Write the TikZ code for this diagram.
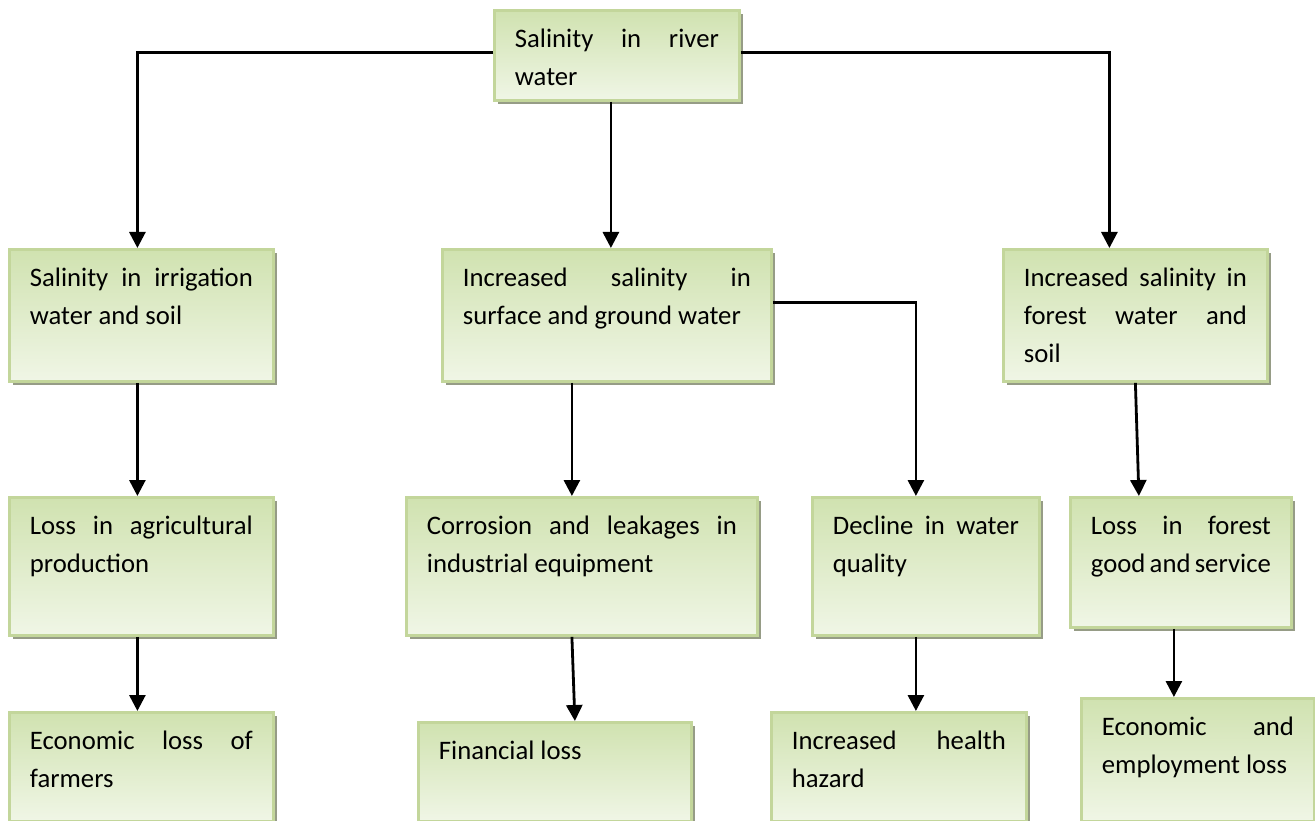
\documentclass[tikz,border=0pt]{standalone}
\usepackage{fontspec}
\setmainfont{Carlito}
\usetikzlibrary{arrows.meta,shadows}
\definecolor{boxedge}{RGB}{195,214,155}
\definecolor{boxtop}{RGB}{208,226,176}
\definecolor{boxbot}{RGB}{240,246,230}
\definecolor{boxshadow}{RGB}{150,156,134}
\begin{document}
\begin{tikzpicture}[x=1pt,y=-1pt,>={Triangle[width=16pt,length=16pt]},
    cbox/.style={draw=boxedge,line width=2.8pt,top color=boxtop,bottom color=boxbot,
      inner xsep=20.5pt,inner ysep=0pt,anchor=north west,
      drop shadow={shadow xshift=4pt,shadow yshift=-4pt,fill=boxshadow,opacity=1}},
    arr/.style={->,line width=2.8pt}]
    \def\bx#1#2#3{\begin{minipage}[c][#2pt][t]{\dimexpr#1pt-41pt\relax}\fontsize{26.7pt}{38pt}\selectfont
        \hyphenpenalty=10000 \tolerance=10000 \hbadness=10000 \rule{0pt}{37pt}#3\end{minipage}}
    \useasboundingbox (0,0) rectangle (1315,821);
    % top
    \node[cbox] (src) at (493,9) {\bx{245}{90}{Salinity in river\linebreak water}};
    % second row
    \node[cbox] (irr) at (8,248) {\bx{264}{132}{Salinity in irrigation\linebreak water and soil}};
    \node[cbox] (sg) at (441,248) {\bx{329}{132}{Increased salinity in\linebreak surface and ground water}};
    \node[cbox] (fw) at (1002,248) {\bx{264}{132}{Increased salinity in\linebreak forest water and\linebreak soil}};
    % third row
    \node[cbox] (agr) at (8,496) {\bx{264}{138}{Loss in agricultural\linebreak production}};
    \node[cbox] (cor) at (405,496) {\bx{351}{138}{Corrosion and leakages in\linebreak industrial equipment}};
    \node[cbox] (dec) at (811,496) {\bx{227}{138}{Decline in water\linebreak quality}};
    \node[cbox] (fgs) at (1069,496) {\bx{221}{130}{Loss in forest\linebreak good and service}};
    % bottom row
    \node[cbox] (eco) at (8,711) {\bx{264}{109}{Economic loss of\linebreak farmers}};
    \node[cbox] (fin) at (417,721) {\bx{273}{99}{Financial loss}};
    \node[cbox] (hh) at (770,711) {\bx{255}{109}{Increased health\linebreak hazard}};
    \node[cbox] (emp) at (1080,697) {\bx{233}{123}{Economic and\linebreak employment loss}};
    % arrows
    \draw[arr] ([yshift=3pt]src.west) -| ([xshift=-4pt]irr.north);
    \draw[arr] ([yshift=3pt]src.east) -| ([xshift=-26pt]fw.north);
    \draw[arr] ([xshift=-6pt]src.south) -- ([xshift=-6pt]src.south |- sg.north);
    \draw[arr] ([xshift=-4pt]irr.south) -- ([xshift=-4pt]agr.north);
    \draw[arr] ([xshift=-4pt]agr.south) -- ([xshift=-4pt]eco.north);
    \draw[arr] ([yshift=13pt]sg.east) -| ([xshift=-10pt]dec.north);
    \draw[arr] ([xshift=-35pt]sg.south) -- ([xshift=-35pt]sg.south |- cor.north);
    \draw[arr] ([xshift=-10pt]cor.south) -- ([xshift=20pt]fin.north);
    \draw[arr] ([xshift=-10pt]dec.south) -- ([xshift=-10pt]dec.south |- hh.north);
    \draw[arr] (fw.south) -- ([xshift=-42pt]fgs.north);
    \draw[arr] ([xshift=-7pt]fgs.south) -- ([xshift=-7pt]fgs.south |- emp.north);
\end{tikzpicture}
\end{document}
